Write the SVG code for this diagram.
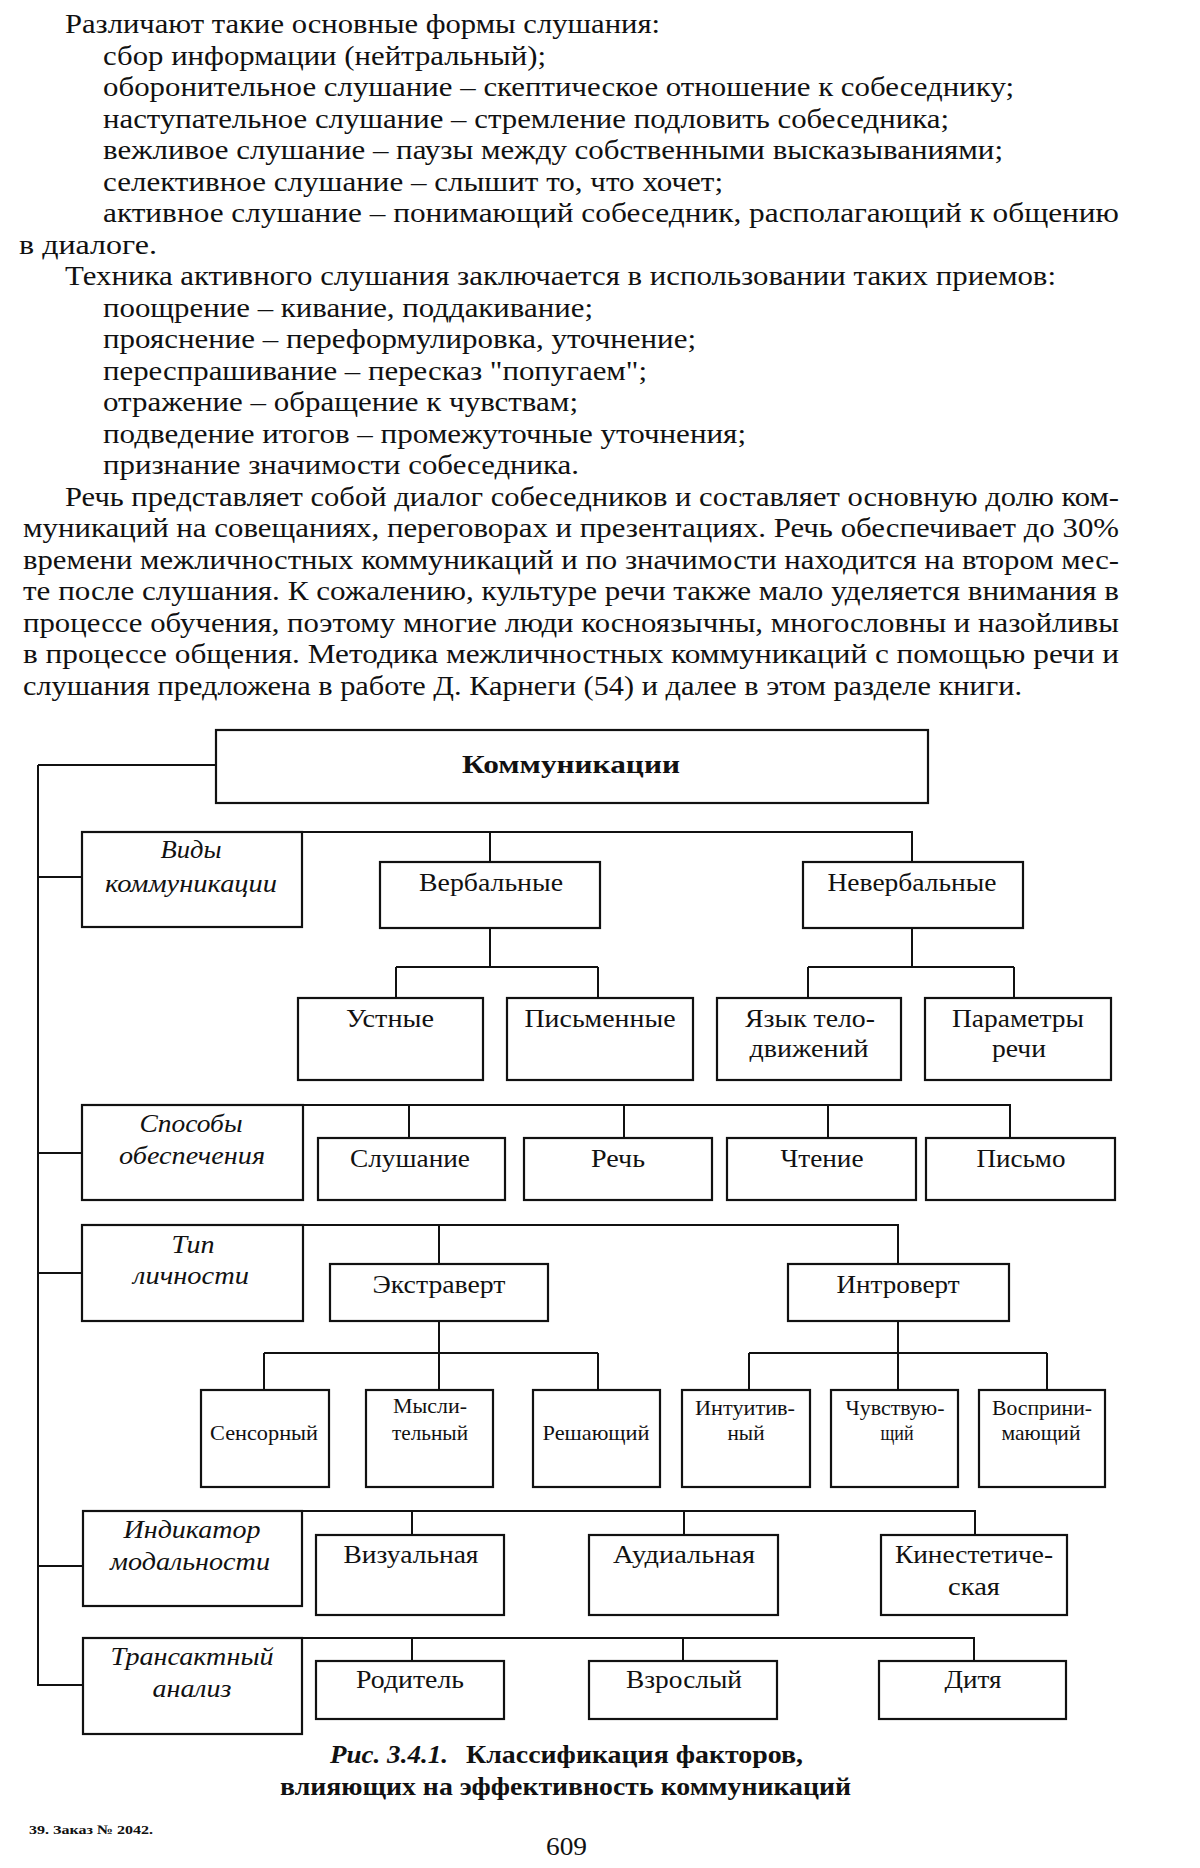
<svg xmlns="http://www.w3.org/2000/svg" width="1200" height="1868" viewBox="0 0 1200 1868">
<style>
text{font-family:"Liberation Serif","DejaVu Serif",serif;fill:#111}
.p{font-size:28px}
.l{font-size:26px;text-anchor:middle}
.i{font-style:italic}
.s{font-size:21px;text-anchor:middle}
.b{font-weight:bold}
.box{fill:#fff;stroke:#111;stroke-width:2.2}
.c{fill:none;stroke:#111;stroke-width:2}
</style>
<rect width="1200" height="1868" fill="#fff"/>
<g id="body-text" class="p">
<text class="p" x="65" y="33" textLength="595" lengthAdjust="spacingAndGlyphs">Различают такие основные формы слушания:</text>
<text class="p" x="103" y="64.5" textLength="443" lengthAdjust="spacingAndGlyphs">сбор информации (нейтральный);</text>
<text class="p" x="103" y="96" textLength="911" lengthAdjust="spacingAndGlyphs">оборонительное слушание – скептическое отношение к собеседнику;</text>
<text class="p" x="103" y="127.5" textLength="846" lengthAdjust="spacingAndGlyphs">наступательное слушание – стремление подловить собеседника;</text>
<text class="p" x="103" y="159" textLength="900" lengthAdjust="spacingAndGlyphs">вежливое слушание – паузы между собственными высказываниями;</text>
<text class="p" x="103" y="190.5" textLength="620" lengthAdjust="spacingAndGlyphs">селективное слушание – слышит то, что хочет;</text>
<text class="p" x="103" y="222" textLength="1016" lengthAdjust="spacingAndGlyphs">активное слушание – понимающий собеседник, располагающий к общению</text>
<text class="p" x="19" y="253.5" textLength="138" lengthAdjust="spacingAndGlyphs">в диалоге.</text>
<text class="p" x="65" y="285" textLength="991" lengthAdjust="spacingAndGlyphs">Техника активного слушания заключается в использовании таких приемов:</text>
<text class="p" x="103" y="316.5" textLength="490" lengthAdjust="spacingAndGlyphs">поощрение – кивание, поддакивание;</text>
<text class="p" x="103" y="348" textLength="593" lengthAdjust="spacingAndGlyphs">прояснение – переформулировка, уточнение;</text>
<text class="p" x="103" y="379.5" textLength="544" lengthAdjust="spacingAndGlyphs">переспрашивание – пересказ "попугаем";</text>
<text class="p" x="103" y="411" textLength="475" lengthAdjust="spacingAndGlyphs">отражение – обращение к чувствам;</text>
<text class="p" x="103" y="442.5" textLength="643" lengthAdjust="spacingAndGlyphs">подведение итогов – промежуточные уточнения;</text>
<text class="p" x="103" y="474" textLength="476" lengthAdjust="spacingAndGlyphs">признание значимости собеседника.</text>
<text class="p" x="65" y="505.5" textLength="1054" lengthAdjust="spacingAndGlyphs">Речь представляет собой диалог собеседников и составляет основную долю ком-</text>
<text class="p" x="23" y="537" textLength="1096" lengthAdjust="spacingAndGlyphs">муникаций на совещаниях, переговорах и презентациях. Речь обеспечивает до 30%</text>
<text class="p" x="23" y="568.5" textLength="1096" lengthAdjust="spacingAndGlyphs">времени межличностных коммуникаций и по значимости находится на втором мес-</text>
<text class="p" x="23" y="600" textLength="1096" lengthAdjust="spacingAndGlyphs">те после слушания. К сожалению, культуре речи также мало уделяется внимания в</text>
<text class="p" x="23" y="631.5" textLength="1096" lengthAdjust="spacingAndGlyphs">процессе обучения, поэтому многие люди косноязычны, многословны и назойливы</text>
<text class="p" x="23" y="663" textLength="1096" lengthAdjust="spacingAndGlyphs">в процессе общения. Методика межличностных коммуникаций с помощью речи и</text>
<text class="p" x="23" y="694.5" textLength="999" lengthAdjust="spacingAndGlyphs">слушания предложена в работе Д. Карнеги (54) и далее в этом разделе книги.</text>
</g>
<g id="connectors">
<path class="c" d="M38 765 H216 M38 765 V1685 H82"/>
<path class="c" d="M38 877 H82 M38 1153 H82 M38 1273 H82 M38 1566 H82"/>
<path class="c" d="M302 832 H912 V862 M490 832 V862"/>
<path class="c" d="M490 928 V967 M396 967 H598 M396 967 V998 M598 967 V998"/>
<path class="c" d="M912 928 V967 M808 967 H1014 M808 967 V998 M1014 967 V998"/>
<path class="c" d="M303 1105 H1010 V1138 M409 1105 V1138 M624 1105 V1138 M828 1105 V1138"/>
<path class="c" d="M303 1225 H898 V1264 M439 1225 V1264"/>
<path class="c" d="M439 1321 V1390 M264 1353 H598 M264 1353 V1390 M598 1353 V1390"/>
<path class="c" d="M898 1321 V1390 M749 1353 H1047 M749 1353 V1390 M1047 1353 V1390"/>
<path class="c" d="M302 1511 H975 V1535 M412 1511 V1535 M684 1511 V1535"/>
<path class="c" d="M302 1638 H974 V1661 M412 1638 V1661 M683 1638 V1661"/>
</g>
<g id="n-komm"><rect class="box" x="216" y="730" width="712" height="73"/><text class="l b" x="571" y="773" font-size="28" textLength="218" lengthAdjust="spacingAndGlyphs">Коммуникации</text></g>
<g id="n-vidy"><rect class="box" x="82" y="832" width="220" height="95"/><text class="l i" x="191" y="858" textLength="61" lengthAdjust="spacingAndGlyphs">Виды</text><text class="l i" x="191" y="892" textLength="172" lengthAdjust="spacingAndGlyphs">коммуникации</text></g>
<g id="n-verb"><rect class="box" x="380" y="862" width="220" height="66"/><text class="l" x="491" y="891" textLength="144" lengthAdjust="spacingAndGlyphs">Вербальные</text></g>
<g id="n-neverb"><rect class="box" x="803" y="862" width="220" height="66"/><text class="l" x="912" y="891" textLength="169" lengthAdjust="spacingAndGlyphs">Невербальные</text></g>
<g id="n-ustn"><rect class="box" x="298" y="998" width="185" height="82"/><text class="l" x="390" y="1027" textLength="88" lengthAdjust="spacingAndGlyphs">Устные</text></g>
<g id="n-pism"><rect class="box" x="507" y="998" width="186" height="82"/><text class="l" x="600" y="1027" textLength="151" lengthAdjust="spacingAndGlyphs">Письменные</text></g>
<g id="n-yazyk"><rect class="box" x="717" y="998" width="184" height="82"/><text class="l" x="810" y="1027" textLength="130" lengthAdjust="spacingAndGlyphs">Язык тело-</text><text class="l" x="809" y="1057" textLength="119" lengthAdjust="spacingAndGlyphs">движений</text></g>
<g id="n-param"><rect class="box" x="925" y="998" width="186" height="82"/><text class="l" x="1018" y="1027" textLength="132" lengthAdjust="spacingAndGlyphs">Параметры</text><text class="l" x="1019" y="1057" textLength="54" lengthAdjust="spacingAndGlyphs">речи</text></g>
<g id="n-sposoby"><rect class="box" x="82" y="1105" width="221" height="95"/><text class="l i" x="191" y="1132" textLength="103" lengthAdjust="spacingAndGlyphs">Способы</text><text class="l i" x="192" y="1164" textLength="146" lengthAdjust="spacingAndGlyphs">обеспечения</text></g>
<g id="n-slush"><rect class="box" x="318" y="1138" width="187" height="62"/><text class="l" x="410" y="1167" textLength="120" lengthAdjust="spacingAndGlyphs">Слушание</text></g>
<g id="n-rech"><rect class="box" x="524" y="1138" width="188" height="62"/><text class="l" x="618" y="1167" textLength="54" lengthAdjust="spacingAndGlyphs">Речь</text></g>
<g id="n-chtenie"><rect class="box" x="727" y="1138" width="189" height="62"/><text class="l" x="822" y="1167" textLength="83" lengthAdjust="spacingAndGlyphs">Чтение</text></g>
<g id="n-pismo"><rect class="box" x="926" y="1138" width="189" height="62"/><text class="l" x="1021" y="1167" textLength="89" lengthAdjust="spacingAndGlyphs">Письмо</text></g>
<g id="n-tip"><rect class="box" x="82" y="1225" width="221" height="96"/><text class="l i" x="193" y="1253" textLength="43" lengthAdjust="spacingAndGlyphs">Тип</text><text class="l i" x="191" y="1284" textLength="116" lengthAdjust="spacingAndGlyphs">личности</text></g>
<g id="n-ekstra"><rect class="box" x="330" y="1264" width="218" height="57"/><text class="l" x="439" y="1293" textLength="133" lengthAdjust="spacingAndGlyphs">Экстраверт</text></g>
<g id="n-intro"><rect class="box" x="788" y="1264" width="221" height="57"/><text class="l" x="898" y="1293" textLength="123" lengthAdjust="spacingAndGlyphs">Интроверт</text></g>
<g id="n-sens"><rect class="box" x="201" y="1390" width="128" height="97"/><text class="s" x="264" y="1440" textLength="108" lengthAdjust="spacingAndGlyphs">Сенсорный</text></g>
<g id="n-mysl"><rect class="box" x="366" y="1390" width="127" height="97"/><text class="s" x="430" y="1413" textLength="74" lengthAdjust="spacingAndGlyphs">Мысли-</text><text class="s" x="430" y="1440" textLength="76" lengthAdjust="spacingAndGlyphs">тельный</text></g>
<g id="n-resh"><rect class="box" x="533" y="1390" width="127" height="97"/><text class="s" x="596" y="1440" textLength="107" lengthAdjust="spacingAndGlyphs">Решающий</text></g>
<g id="n-intu"><rect class="box" x="682" y="1390" width="128" height="97"/><text class="s" x="745" y="1415" textLength="100" lengthAdjust="spacingAndGlyphs">Интуитив-</text><text class="s" x="746" y="1440" textLength="37" lengthAdjust="spacingAndGlyphs">ный</text></g>
<g id="n-chuv"><rect class="box" x="831" y="1390" width="127" height="97"/><text class="s" x="895" y="1415" textLength="99" lengthAdjust="spacingAndGlyphs">Чувствую-</text><text class="s" x="897" y="1440" textLength="33" lengthAdjust="spacingAndGlyphs">щий</text></g>
<g id="n-vospr"><rect class="box" x="979" y="1390" width="126" height="97"/><text class="s" x="1042" y="1415" textLength="100" lengthAdjust="spacingAndGlyphs">Восприни-</text><text class="s" x="1041" y="1440" textLength="79" lengthAdjust="spacingAndGlyphs">мающий</text></g>
<g id="n-indik"><rect class="box" x="83" y="1511" width="219" height="95"/><text class="l i" x="192" y="1538" textLength="137" lengthAdjust="spacingAndGlyphs">Индикатор</text><text class="l i" x="190" y="1570" textLength="160" lengthAdjust="spacingAndGlyphs">модальности</text></g>
<g id="n-viz"><rect class="box" x="316" y="1535" width="188" height="80"/><text class="l" x="411" y="1563" textLength="135" lengthAdjust="spacingAndGlyphs">Визуальная</text></g>
<g id="n-aud"><rect class="box" x="589" y="1535" width="189" height="80"/><text class="l" x="684" y="1563" textLength="142" lengthAdjust="spacingAndGlyphs">Аудиальная</text></g>
<g id="n-kin"><rect class="box" x="881" y="1535" width="186" height="80"/><text class="l" x="974" y="1563" textLength="158" lengthAdjust="spacingAndGlyphs">Кинестетиче-</text><text class="l" x="974" y="1595" textLength="52" lengthAdjust="spacingAndGlyphs">ская</text></g>
<g id="n-trans"><rect class="box" x="83" y="1638" width="219" height="96"/><text class="l i" x="192" y="1665" textLength="163" lengthAdjust="spacingAndGlyphs">Трансактный</text><text class="l i" x="192" y="1697" textLength="79" lengthAdjust="spacingAndGlyphs">анализ</text></g>
<g id="n-rod"><rect class="box" x="316" y="1661" width="188" height="58"/><text class="l" x="410" y="1688" textLength="108" lengthAdjust="spacingAndGlyphs">Родитель</text></g>
<g id="n-vzr"><rect class="box" x="589" y="1661" width="188" height="58"/><text class="l" x="684" y="1688" textLength="116" lengthAdjust="spacingAndGlyphs">Взрослый</text></g>
<g id="n-ditya"><rect class="box" x="879" y="1661" width="187" height="58"/><text class="l" x="973" y="1688" textLength="57" lengthAdjust="spacingAndGlyphs">Дитя</text></g>
<g id="caption">
<text class="b i" x="330" y="1763" font-size="25" textLength="118" lengthAdjust="spacingAndGlyphs">Рис. 3.4.1.</text>
<text class="b" x="466" y="1763" font-size="25" textLength="337" lengthAdjust="spacingAndGlyphs">Классификация факторов,</text>
<text class="b" x="280" y="1795" font-size="25" textLength="571" lengthAdjust="spacingAndGlyphs">влияющих на эффективность коммуникаций</text>
</g>
<g id="footer">
<text class="b" x="29" y="1834" font-size="13" textLength="124" lengthAdjust="spacingAndGlyphs">39. Заказ № 2042.</text>
<text x="546" y="1855" font-size="26" textLength="41" lengthAdjust="spacingAndGlyphs">609</text>
</g>
</svg>
